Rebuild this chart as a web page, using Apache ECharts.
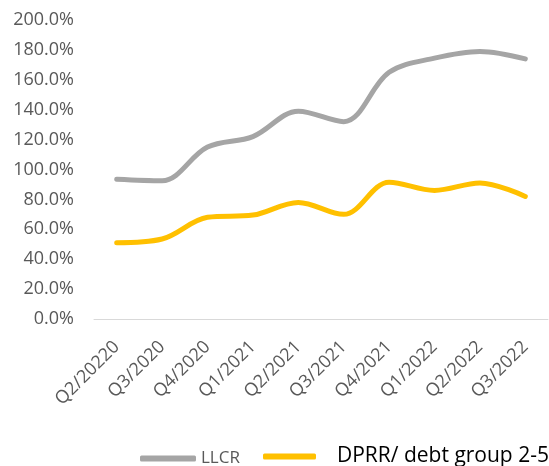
<!DOCTYPE html>
<html>
<head>
<meta charset="utf-8">
<style>
  html, body { margin: 0; padding: 0; background: #ffffff; }
  #chart { width: 549px; height: 466px; }
</style>
<script src="https://cdn.jsdelivr.net/npm/echarts@6/dist/echarts.min.js"></script>
</head>
<body>
<div id="chart"></div>
<script>
// categories (label typo kept as in the source)
const quarters = ['Q2/20220', 'Q3/2020', 'Q4/2020', 'Q1/2021', 'Q2/2021',
  'Q3/2021', 'Q4/2021', 'Q1/2022', 'Q2/2022', 'Q3/2022'];

// values in percent
const llcr = [93.5, 92.5, 115, 122, 139, 132, 165, 174.5, 179, 174];
const dprr = [51, 53.5, 68, 69.5, 78, 70, 91.5, 86, 91, 82];

const chart = echarts.init(document.getElementById('chart'));

const option = {
  animation: false,
  grid: { left: 94, right: 1, top: 20, bottom: 147 },
  legend: [
    {
      data: ['LLCR'],
      left: 140, top: 450, padding: 0,
      icon: 'roundRect', itemWidth: 56, itemHeight: 6,
      textStyle: { color: '#595959', fontSize: 17, fontFamily: 'Open Sans' }
    },
    {
      data: ['DPRR/ debt group 2-5'],
      left: 263, top: 446, padding: 0,
      icon: 'roundRect', itemWidth: 53, itemHeight: 6,
      textStyle: {
        color: '#000000', fontSize: 21, fontFamily: 'Open Sans',
        padding: [0, 0, 0, 16]
      }
    }
  ],
  xAxis: {
    type: 'category',
    data: quarters,
    boundaryGap: true,
    axisLine: { lineStyle: { color: '#d9d9d9', width: 1 } },
    axisTick: { show: false },
    axisLabel: {
      rotate: 45, margin: 25, interval: 0,
      color: '#595959', fontSize: 18, fontFamily: 'Open Sans'
    }
  },
  yAxis: {
    type: 'value',
    min: 0, max: 200, interval: 20,
    axisLine: { show: false },
    axisTick: { show: false },
    splitLine: { show: false },
    axisLabel: {
      margin: 20,
      color: '#595959', fontSize: 18, fontFamily: 'Open Sans',
      formatter: v => v.toFixed(1) + '%'
    }
  },
  series: [
    {
      name: 'LLCR', type: 'line', data: llcr,
      smooth: 0.35, symbol: 'none',
      lineStyle: { color: '#a5a5a5', width: 5, cap: 'round' },
      itemStyle: { color: '#a5a5a5' }
    },
    {
      name: 'DPRR/ debt group 2-5', type: 'line', data: dprr,
      smooth: 0.35, symbol: 'none',
      lineStyle: { color: '#ffc000', width: 5, cap: 'round' },
      itemStyle: { color: '#ffc000' }
    }
  ]
};

chart.setOption(option);
</script>
</body>
</html>
